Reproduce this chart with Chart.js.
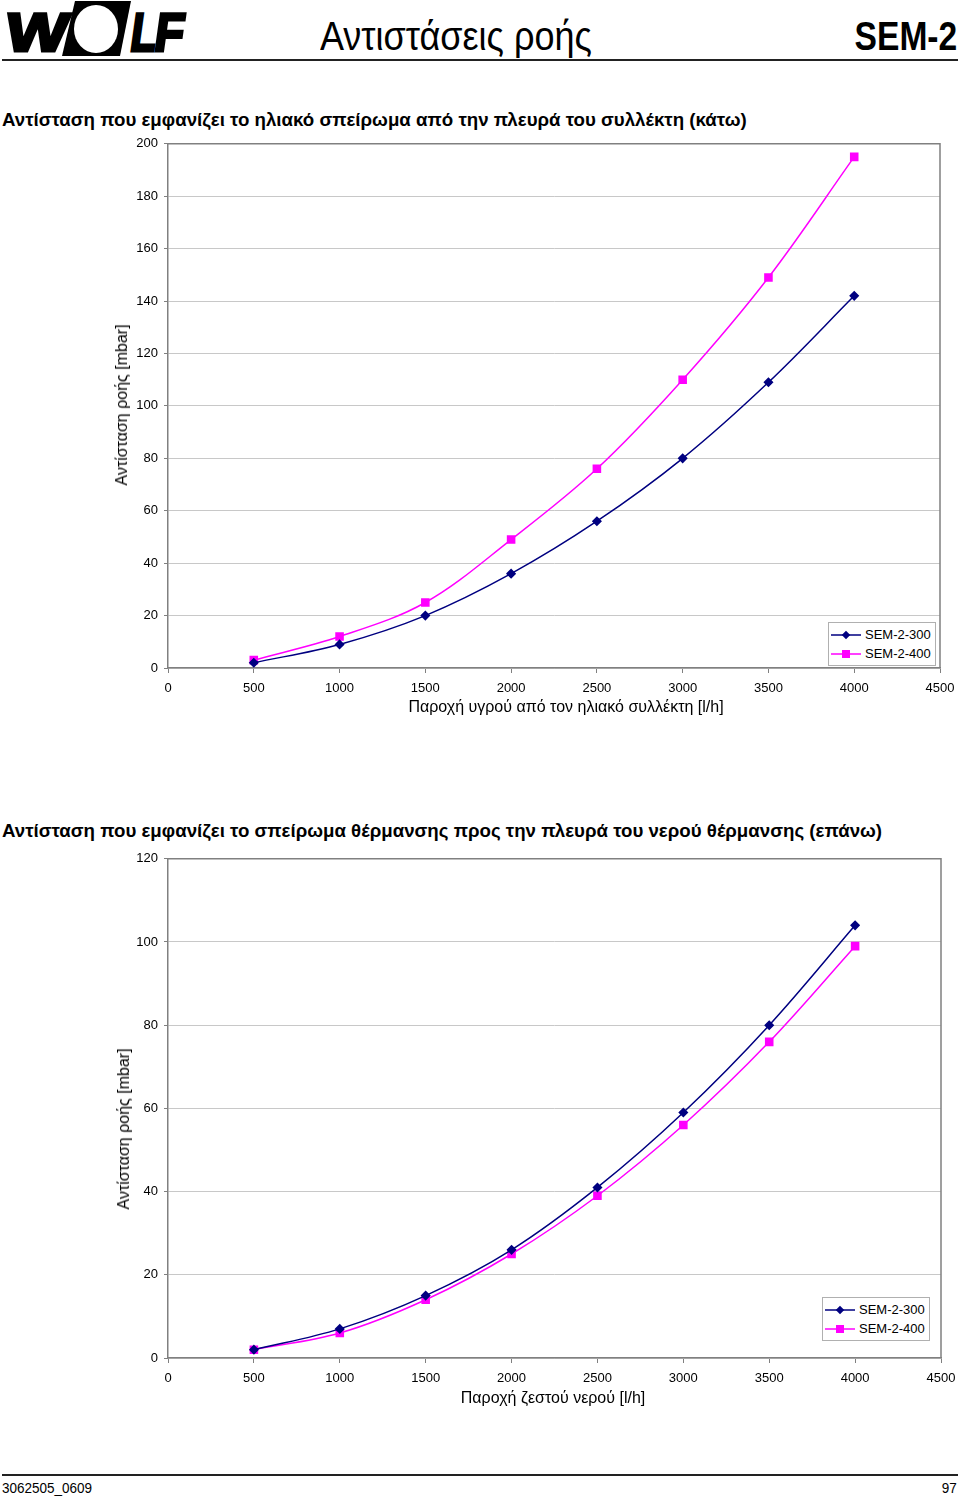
<!DOCTYPE html>
<html>
<head>
<meta charset="utf-8">
<script src="https://cdn.jsdelivr.net/npm/chart.js@4/dist/chart.umd.min.js"></script>
<style>
  body { margin: 0; background: #fff; font-family: "Liberation Sans", Arial, sans-serif; color: #000; }
  #page { position: relative; width: 960px; height: 1499px; overflow: hidden; }
  .abs { position: absolute; white-space: nowrap; }
  .rule { position: absolute; left: 2px; width: 956px; height: 2px; background: #222; }
  .head { font-size: 40px; line-height: 40px; }
  .ctitle { font-weight: bold; font-size: 18.7px; line-height: 22px; left: 2px; }
  .atitle { font-size: 16px; line-height: 20px; }
  .ytitle { transform: translate(-50%, -50%) rotate(-90deg); }
  .xtitle { transform: translate(-50%, -50%); }
  .legend { position: absolute; border: 1px solid #b0b0b0; background: #fff; padding: 2px 4px 2px 2px; font-size: 13px; }
  .legend div { height: 19px; line-height: 19px; display: flex; align-items: center; }
  .legend svg { margin-right: 4px; }
  .foot { font-size: 15px; transform: scaleX(0.9); }
  canvas { position: absolute; left: 0; }
</style>
</head>
<body>
<div id="page">
  <svg class="abs" style="left:0;top:0" width="200" height="60">
    <g font-family="Liberation Sans" font-weight="bold" font-size="54" fill="#000" stroke="#000" stroke-width="3" transform="skewX(-8)">
      <text x="11" y="51" textLength="62" lengthAdjust="spacingAndGlyphs">W</text>
      <text x="136" y="51" textLength="26" lengthAdjust="spacingAndGlyphs">L</text>
      <text x="160" y="51" textLength="29" lengthAdjust="spacingAndGlyphs">F</text>
    </g>
    <polygon points="75,1 131,1 120,56 62,56" fill="#000"/>
    <ellipse cx="96" cy="29" rx="22" ry="24" fill="#fff"/>
  </svg>
  <div class="abs head" style="left:320px;top:16px;transform:scaleX(0.9);transform-origin:left top">Αντιστάσεις ροής</div>
  <div class="abs head" style="right:3px;top:16px;font-weight:bold;transform:scaleX(0.84);transform-origin:right top">SEM-2</div>
  <div class="rule" style="top:59px"></div>

  <div class="abs ctitle" style="top:109px">Αντίσταση που εμφανίζει το ηλιακό σπείρωμα από την πλευρά του συλλέκτη (κάτω)</div>
  <canvas id="chart1" width="960" height="578" style="top:130px"></canvas>
  <div class="abs atitle ytitle" style="left:122px;top:405px">Αντίσταση ροής [mbar]</div>
  <div class="abs atitle xtitle" style="left:566px;top:707px">Παροχή υγρού από τον ηλιακό συλλέκτη [l/h]</div>
  <div class="legend" style="left:828px;top:622px">
    <div><svg width="30" height="10"><line x1="0" y1="5" x2="30" y2="5" stroke="#000080" stroke-width="1.5"/><rect x="12" y="2" width="6" height="6" fill="#000080" transform="rotate(45 15 5)"/></svg>SEM-2-300</div>
    <div><svg width="30" height="10"><line x1="0" y1="5" x2="30" y2="5" stroke="#ff00ff" stroke-width="1.5"/><rect x="11" y="1" width="8" height="8" fill="#ff00ff"/></svg>SEM-2-400</div>
  </div>

  <div class="abs ctitle" style="top:820px">Αντίσταση που εμφανίζει το σπείρωμα θέρμανσης προς την πλευρά του νερού θέρμανσης (επάνω)</div>
  <canvas id="chart2" width="960" height="553" style="top:845px"></canvas>
  <div class="abs atitle ytitle" style="left:124px;top:1129px">Αντίσταση ροής [mbar]</div>
  <div class="abs atitle xtitle" style="left:553px;top:1398px">Παροχή ζεστού νερού [l/h]</div>
  <div class="legend" style="left:822px;top:1297px">
    <div><svg width="30" height="10"><line x1="0" y1="5" x2="30" y2="5" stroke="#000080" stroke-width="1.5"/><rect x="12" y="2" width="6" height="6" fill="#000080" transform="rotate(45 15 5)"/></svg>SEM-2-300</div>
    <div><svg width="30" height="10"><line x1="0" y1="5" x2="30" y2="5" stroke="#ff00ff" stroke-width="1.5"/><rect x="11" y="1" width="8" height="8" fill="#ff00ff"/></svg>SEM-2-400</div>
  </div>

  <div class="rule" style="top:1474px"></div>
  <div class="abs foot" style="left:2px;top:1479px;transform-origin:left top">3062505_0609</div>
  <div class="abs foot" style="right:3px;top:1479px;transform-origin:right top">97</div>
</div>

<script>
// flow rates [l/h]
const flow = [500, 1000, 1500, 2000, 2500, 3000, 3500, 4000];

// chart 1 - solar coil, collector side (bottom)
const solar300 = [2, 9, 20, 36, 56, 80, 109, 142];
const solar400 = [3, 12, 25, 49, 76, 110, 149, 195];
const solarTicks = [0, 20, 40, 60, 80, 100, 120, 140, 160, 180, 200];

// chart 2 - heating coil, heating water side (top)
const heat300 = [2, 7, 15, 26, 41, 59, 80, 104];
const heat400 = [2, 6, 14, 25, 39, 56, 76, 99];
const heatTicks = [0, 20, 40, 60, 80, 100, 120];

const xTicks = [0, 500, 1000, 1500, 2000, 2500, 3000, 3500, 4000, 4500];

Chart.defaults.font.family = '"Liberation Sans", Arial, sans-serif';
Chart.defaults.font.size = 13;
Chart.defaults.color = '#000';

const frame = {
    id: 'frame',
    afterDraw(chart) {
        const a = chart.chartArea, c = chart.ctx;
        c.save();
        c.strokeStyle = '#808080';
        c.lineWidth = 1.5;
        c.beginPath();
        c.moveTo(a.left, a.top);
        c.lineTo(a.right, a.top);
        c.lineTo(a.right, a.bottom);
        c.stroke();
        c.restore();
    }
};

function series(vals) {
    return vals.map((v, i) => ({ x: flow[i], y: v }));
}

function makeChart(id, s300, s400, yTicks, pad) {
    const ctx = document.getElementById(id).getContext('2d');
    return new Chart(ctx, {
        type: 'line',
        data: {
            datasets: [{
                label: 'SEM-2-300',
                data: series(s300),
                borderColor: '#000080',
                backgroundColor: '#000080',
                borderWidth: 1.5,
                pointStyle: 'rectRot',
                pointRadius: 4,
                tension: 0.35
            }, {
                label: 'SEM-2-400',
                data: series(s400),
                borderColor: '#ff00ff',
                backgroundColor: '#ff00ff',
                borderWidth: 1.5,
                pointStyle: 'rect',
                pointRadius: 5,
                tension: 0.35
            }]
        },
        options: {
            responsive: false,
            animation: false,
            layout: { padding: pad },
            plugins: { legend: { display: false }, tooltip: { enabled: false } },
            scales: {
                x: {
                    type: 'linear',
                    min: 0,
                    max: 4500,
                    afterBuildTicks: s => { s.ticks = xTicks.map(v => ({ value: v })); },
                    afterFit: s => { s.height = 40; s.paddingLeft = 0; s.paddingRight = 0; },
                    ticks: { padding: 8, maxRotation: 0, callback: v => String(v) },
                    border: { color: '#808080', width: 1.5 },
                    grid: { drawOnChartArea: false, tickLength: 5, color: '#808080' }
                },
                y: {
                    min: 0,
                    max: yTicks[yTicks.length - 1],
                    afterBuildTicks: s => { s.ticks = yTicks.map(v => ({ value: v })); },
                    afterFit: s => { s.width = 168; },
                    ticks: { padding: 6, callback: v => String(v) },
                    border: { color: '#808080', width: 1.5 },
                    grid: { color: '#c8c8c8', lineWidth: 1, tickLength: 4, tickColor: '#808080' }
                }
            }
        },
        plugins: [frame]
    });
}

makeChart('chart1', solar300, solar400, solarTicks, { top: 12, right: 20, bottom: 0, left: 0 });
makeChart('chart2', heat300, heat400, heatTicks, { top: 12, right: 19, bottom: 0, left: 0 });
</script>
</body>
</html>
